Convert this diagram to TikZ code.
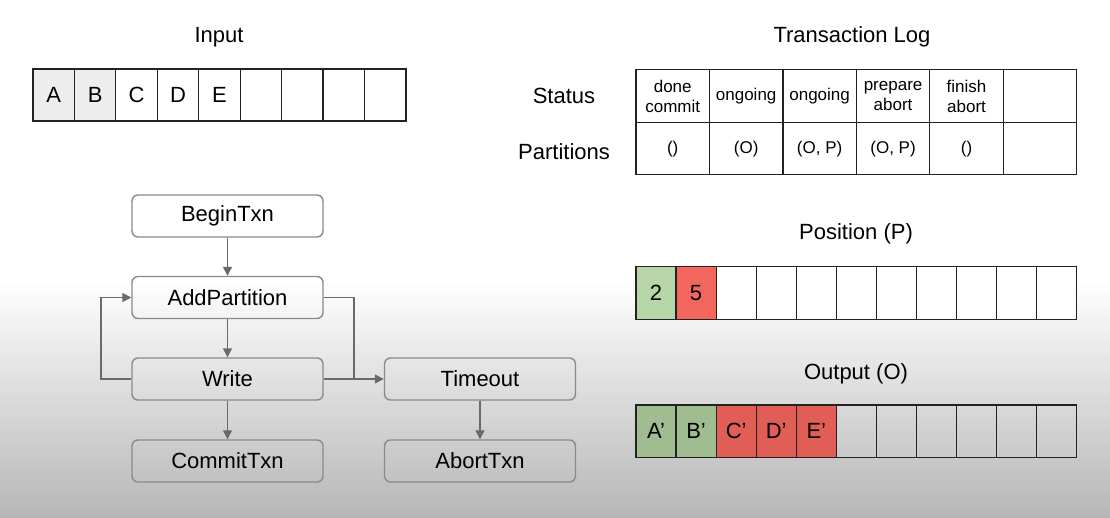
\documentclass[tikz,border=0pt]{standalone}
\usepackage{fontspec}
\setmainfont{Liberation Sans}
\usetikzlibrary{arrows.meta}
\definecolor{bggray}{HTML}{B6B6B6}
\definecolor{boxline}{HTML}{8A8A8A}
\definecolor{arrgray}{HTML}{6A6A6A}
\definecolor{ingray}{HTML}{EDEDED}
\definecolor{pgreen}{HTML}{B6D6A7}
\definecolor{pred}{HTML}{F3665D}
\definecolor{ogreen}{HTML}{A0BC91}
\definecolor{ored}{HTML}{E05E56}
\definecolor{gridline}{HTML}{222222}
\begin{document}
\begin{tikzpicture}[x=1pt,y=-1pt,
  title/.style={font=\fontsize{22}{26}\selectfont, inner sep=0pt},
  cell/.style={draw=gridline, line width=1.2pt, inner sep=0pt,
    font=\fontsize{22}{26}\selectfont},
  tcell/.style={draw=gridline, line width=1.2pt, inner sep=0pt,
    minimum width=73.45pt, minimum height=52.5pt, align=center,
    font=\fontsize{17}{20}\selectfont},
  fbox/.style={draw=boxline, line width=1.4pt, rounded corners=6pt,
    minimum width=191pt, minimum height=42pt, inner sep=0pt,
    font=\fontsize{22}{26}\selectfont},
  arr/.style={draw=arrgray, line width=1.4pt,
    -{Triangle[length=9pt,width=9pt]}},
  conn/.style={draw=arrgray, line width=1.4pt}
]
\useasboundingbox (0,0) rectangle (1110,518);
\fill[white] (0,0) rectangle (1110,281);
\shade[top color=white, bottom color=bggray] (0,280) rectangle (1110,518);

% Input
\node[title] (tin) at (219,37) {Input};
\foreach \i/\t/\f in {0/A/ingray,1/B/ingray,2/C/white,3/D/white,4/E/white,5//white,6//white,7//white,8//white}{
  \node[cell, fill=\f, minimum width=41.44pt, minimum height=52pt]
    (in\i) at ({33+41.44*\i+20.72},95) {\t};
}

% Flowchart
\node[fbox] (begin) at (227.5,216) {BeginTxn};
\node[fbox] (add) at (227.5,297.5) {AddPartition};
\node[fbox] (write) at (227.5,379) {Write};
\node[fbox] (commit) at (227.5,461) {CommitTxn};
\node[fbox] (timeout) at (480,379) {Timeout};
\node[fbox] (abort) at (480,461) {AbortTxn};
\coordinate (loopl) at (101,379);
\coordinate (join) at (354,379);
\draw[arr] (begin) -- (add);
\draw[arr] (add) -- (write);
\draw[arr] (write) -- (commit);
\draw[arr] (timeout) -- (abort);
\draw[arr] (write.west) -- (loopl) |- (add.west);
\draw[conn] (add.east) -| (join);
\draw[arr] (write.east) -- (timeout.west);

% Transaction log
\node[title] (ttl) at (852,37) {Transaction Log};
\node[title] (lstatus) at (564,96) {Status};
\node[title] (lpart) at (564,152) {Partitions};
\foreach \i/\s/\p in {0/{done\\commit}/(),1/ongoing/(O),2/ongoing/{(O, P)},3/{prepare\\abort}/{(O, P)},4/{finish\\abort}/(),5//}{
  \node[tcell] (st\i) at ({636+73.45*\i+36.72},96.15) {\s};
  \node[tcell] (pt\i) at ({636+73.45*\i+36.72},148.65) {\p};
}

% Position
\node[title] (tpos) at (856,234) {Position (P)};
\foreach \i/\t/\f in {0/2/pgreen,1/5/pred,2//white,3//white,4//white,5//white,6//white,7//white,8//white,9//white,10//white}{
  \node[cell, fill=\f, minimum width=40.06pt, minimum height=52.6pt]
    (pos\i) at ({636+40.06*\i+20.03},293) {\t};
}

% Output
\node[title] (tout) at (856,374) {Output (O)};
\foreach \i/\t/\f in {0/A'/ogreen,1/B'/ogreen,2/C'/ored,3/D'/ored,4/E'/ored}{
  \node[cell, fill=\f, minimum width=40.06pt, minimum height=52.6pt]
    (out\i) at ({636+40.06*\i+20.03},431.3) {\t};
}
\foreach \i in {5,...,10}{
  \node[cell, minimum width=40.06pt, minimum height=52.6pt]
    (out\i) at ({636+40.06*\i+20.03},431.3) {};
}
\end{tikzpicture}
\end{document}
